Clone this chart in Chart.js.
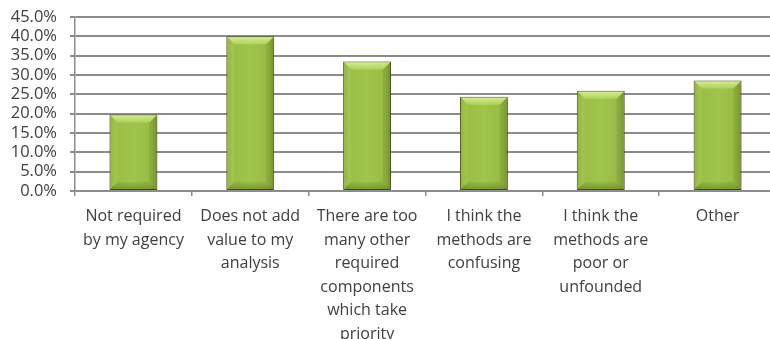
<!DOCTYPE html>
<html>
<head>
<meta charset="utf-8">
<script src="https://cdn.jsdelivr.net/npm/chart.js@4/dist/chart.umd.min.js"></script>
<style>
  html, body { margin: 0; padding: 0; background: #fff; overflow: hidden; }
  #wrap { position: relative; width: 780px; height: 339px; }
</style>
</head>
<body>
<div id="wrap"><canvas id="reasonsChart"></canvas></div>
<script>
// Reasons for not using the methods (share of respondents)
const reasons = [
    ['Not required', 'by my agency'],
    ['Does not add', 'value to my', 'analysis'],
    ['There are too', 'many other', 'required', 'components', 'which take', 'priority'],
    ['I think the', 'methods are', 'confusing'],
    ['I think the', 'methods are', 'poor or', 'unfounded'],
    ['Other']
];
const shares = [19.8, 40.0, 33.5, 24.4, 25.9, 28.6];
const yTicks = [0, 5, 10, 15, 20, 25, 30, 35, 40, 45];

const gridGray = '#8c8c8c';
const textGray = '#404040';
const barPct = 0.41;

// Horizontal green gradient across each bar, positioned from the x scale
function barFill(context) {
    const chart = context.chart;
    const xs = chart.scales.x;
    if (!xs || !chart.chartArea) return '#9bbb59';
    const cx = xs.getPixelForValue(context.dataIndex);
    const half = (xs.width / reasons.length) * barPct / 2;
    if (!Number.isFinite(cx) || !Number.isFinite(half) || half <= 0) return '#9bbb59';
    const g = chart.ctx.createLinearGradient(cx - half, 0, cx + half, 0);
    g.addColorStop(0, '#87a63a');
    g.addColorStop(0.12, '#9abd45');
    g.addColorStop(0.5, '#a0c54c');
    g.addColorStop(0.88, '#98ba44');
    g.addColorStop(1, '#7f9c35');
    return g;
}

// Soft shadow under the bars plus gentle bevelled edges on top of them
const bevelBars = {
    id: 'bevelBars',
    beforeDatasetDraw(chart) {
        const ctx = chart.ctx;
        ctx.save();
        ctx.shadowColor = 'rgba(0,0,0,0.3)';
        ctx.shadowBlur = 5;
        ctx.shadowOffsetX = 1;
        ctx.shadowOffsetY = 2;
    },
    afterDatasetDraw(chart) {
        const ctx = chart.ctx;
        ctx.restore();
        ctx.save();
        chart.getDatasetMeta(0).data.forEach(bar => {
            const l = bar.x - bar.width / 2 + 1;
            const r = bar.x + bar.width / 2 - 1;
            const t = bar.y + 1;
            const b = bar.base - 1;
            const d = Math.min(7, (b - t) / 3);
            // top face
            const top = ctx.createLinearGradient(0, t, 0, t + d);
            top.addColorStop(0, 'rgba(220,242,155,0.9)');
            top.addColorStop(1, 'rgba(190,225,110,0.55)');
            ctx.fillStyle = top;
            ctx.beginPath();
            ctx.moveTo(l, t); ctx.lineTo(r, t); ctx.lineTo(r - d, t + d); ctx.lineTo(l + d, t + d);
            ctx.closePath(); ctx.fill();
            // left face
            ctx.fillStyle = 'rgba(200,230,120,0.18)';
            ctx.beginPath();
            ctx.moveTo(l, t); ctx.lineTo(l + d, t + d); ctx.lineTo(l + d, b - d); ctx.lineTo(l, b);
            ctx.closePath(); ctx.fill();
            // right face
            ctx.fillStyle = 'rgba(60,85,15,0.15)';
            ctx.beginPath();
            ctx.moveTo(r, t); ctx.lineTo(r - d, t + d); ctx.lineTo(r - d, b - d); ctx.lineTo(r, b);
            ctx.closePath(); ctx.fill();
            // bottom face
            const bottom = ctx.createLinearGradient(0, b - d, 0, b);
            bottom.addColorStop(0, 'rgba(60,85,15,0.1)');
            bottom.addColorStop(1, 'rgba(60,85,15,0.35)');
            ctx.fillStyle = bottom;
            ctx.beginPath();
            ctx.moveTo(l, b); ctx.lineTo(l + d, b - d); ctx.lineTo(r - d, b - d); ctx.lineTo(r, b);
            ctx.closePath(); ctx.fill();
        });
        ctx.restore();
    }
};

const ctx = document.getElementById('reasonsChart').getContext('2d');
new Chart(ctx, {
    type: 'bar',
    data: {
        labels: reasons,
        datasets: [
            {
                data: shares,
                backgroundColor: barFill,
                borderColor: '#4f6420',
                borderWidth: 1,
                borderSkipped: false,
                barPercentage: barPct,
                categoryPercentage: 1.0
            }
        ]
    },
    plugins: [bevelBars],
    options: {
        responsive: true,
        maintainAspectRatio: false,
        animation: false,
        layout: { padding: { top: 17, right: 4, bottom: 0, left: 0 } },
        plugins: {
            legend: { display: false },
            tooltip: { enabled: false }
        },
        scales: {
            x: {
                grid: {
                    offset: true,
                    drawOnChartArea: false,
                    drawTicks: true,
                    tickLength: 5,
                    color: gridGray,
                    lineWidth: 1.5
                },
                border: { color: gridGray, width: 2 },
                ticks: {
                    color: textGray,
                    maxRotation: 0,
                    autoSkip: false,
                    padding: 9,
                    font: { family: 'Open Sans', size: 16, lineHeight: '23.5px' }
                },
                afterFit(scale) { scale.height = 148; }
            },
            y: {
                min: 0,
                max: 45,
                afterBuildTicks(scale) {
                    scale.ticks = yTicks.map(v => ({ value: v }));
                },
                grid: {
                    color: gridGray,
                    lineWidth: 2,
                    drawTicks: true,
                    tickLength: 5
                },
                border: { color: gridGray, width: 1.5 },
                ticks: {
                    color: textGray,
                    autoSkip: false,
                    padding: 13,
                    font: { family: 'Open Sans', size: 16.5 },
                    callback: value => value.toFixed(1) + '%'
                },
                afterFit(scale) {
                    scale.width = 75;
                    scale.paddingTop = 0;
                    scale.paddingBottom = 0;
                }
            }
        }
    }
});
</script>
</body>
</html>
